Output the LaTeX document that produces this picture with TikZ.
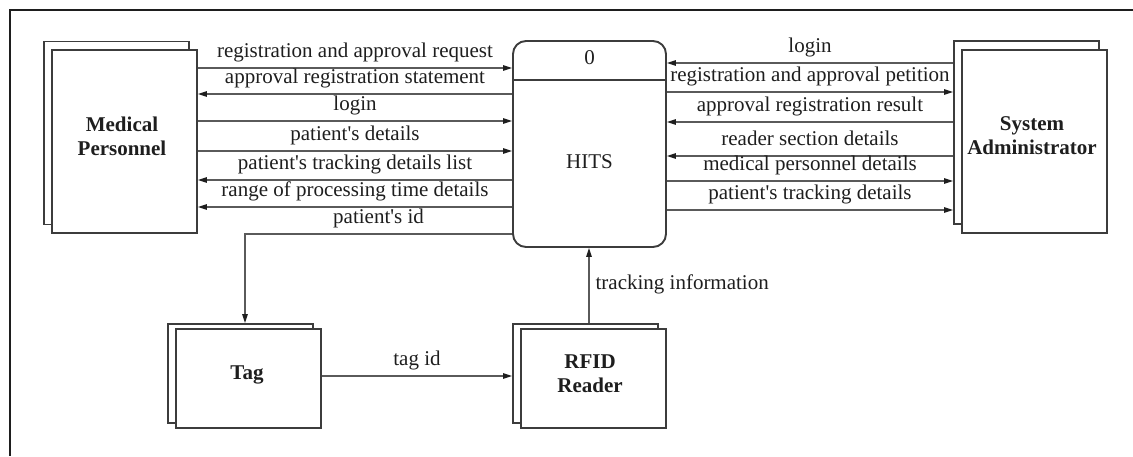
\documentclass[tikz,border=0pt]{standalone}
\usepackage{fontspec}
\setmainfont{Liberation Serif}[Ligatures=TeXOff]
\usetikzlibrary{arrows.meta}
\definecolor{inkc}{HTML}{1E1E1E}
\definecolor{boxc}{HTML}{3C3C3C}
\definecolor{flowc}{HTML}{5A5A5A}
\tikzset{
  box/.style={draw=boxc, line width=1.9pt, fill=white, inner sep=0pt,
    minimum width=#1},
  entity/.style={box=145pt, minimum height=183pt},
  smallent/.style={box=145pt, minimum height=99pt},
  ename/.style={text=inkc, align=center, inner sep=0pt,
    font=\fontsize{21}{24}\selectfont\bfseries},
  ptext/.style={text=inkc, inner sep=0pt, font=\fontsize{21}{24}\selectfont},
  flow/.style={draw=flowc, line width=1.2pt,
    -{Triangle[length=9pt,width=5.5pt,color=inkc]}},
  lbl/.style={ptext, anchor=base, yshift=10.5pt},
}
\begin{document}
\begin{tikzpicture}[x=1pt,y=-1pt]
\useasboundingbox (0,0) rectangle (1133,456);
% page frame
\draw[line width=2.4pt, inkc] (1133,10) -- (10,10) -- (10,456);

% external entities (each with a copy behind it)
\node[entity] (mpb) at (116.5,133) {};
\node[entity] (mpf) at (124.5,141.5) {};
\node[ename] (mpt) at (122,136) {Medical\\Personnel};

\node[entity] (sab) at (1026.5,132.5) {};
\node[entity] (saf) at (1034.5,141.5) {};
\node[ename] (sat) at (1032,136) {System\\Administrator};

\node[smallent] (tagb) at (240.5,373.5) {};
\node[smallent] (tagf) at (248.5,378.5) {};
\node[ename] (tagt) at (247,375) {Tag};

\node[smallent] (rfb) at (585.5,373.5) {};
\node[smallent] (rff) at (593.5,378.5) {};
\node[ename] (rft) at (590,374) {RFID\\Reader};

% process
\node[draw=boxc, line width=1.9pt, fill=white, rounded corners=13pt,
      minimum width=153pt, minimum height=206pt, inner sep=0pt] (hits) at (589.5,144) {};
\draw[draw=boxc, line width=1.6pt] (hits.west |- 0,80) -- (hits.east |- 0,80);
\node[ptext] (hnum) at (589.5,58) {0};
\node[ptext] (hname) at (589.5,162) {HITS};

% flows with Medical Personnel
\draw[flow] (mpf.east |- 0,68) -- node[lbl]{registration and approval request} (hits.west |- 0,68);
\draw[flow] (hits.west |- 0,94) -- node[lbl]{approval registration statement} (mpf.east |- 0,94);
\draw[flow] (mpf.east |- 0,121) -- node[lbl]{login} (hits.west |- 0,121);
\draw[flow] (mpf.east |- 0,151) -- node[lbl]{patient's details} (hits.west |- 0,151);
\draw[flow] (hits.west |- 0,180) -- node[lbl]{patient's tracking details list} (mpf.east |- 0,180);
\draw[flow] (hits.west |- 0,207) -- node[lbl]{range of processing time details} (mpf.east |- 0,207);

% flows with System Administrator
\draw[flow] (sab.west |- 0,63) -- node[lbl]{login} (hits.east |- 0,63);
\draw[flow] (hits.east |- 0,92) -- node[lbl]{registration and approval petition} (sab.west |- 0,92);
\draw[flow] (sab.west |- 0,122) -- node[lbl]{approval registration result} (hits.east |- 0,122);
\draw[flow] (sab.west |- 0,156) -- node[lbl]{reader section details} (hits.east |- 0,156);
\draw[flow] (hits.east |- 0,181) -- node[lbl]{medical personnel details} (sab.west |- 0,181);
\draw[flow] (hits.east |- 0,210) -- node[lbl]{patient's tracking details} (sab.west |- 0,210);

% tag and reader flows
\draw[flow] (hits.west |- 0,234) -| node[lbl, pos=0.25]{patient's id} ([xshift=4.5pt]tagb.north);
\draw[flow] (tagf.east |- 0,376) -- node[lbl]{tag id} (rfb.west |- 0,376);
\draw[flow] (rfb.north -| 589,0) -- node[ptext, pos=0.5, anchor=base west, xshift=6pt, yshift=-3.5pt]{tracking information} (hits.south -| 589,0);
\end{tikzpicture}
\end{document}
